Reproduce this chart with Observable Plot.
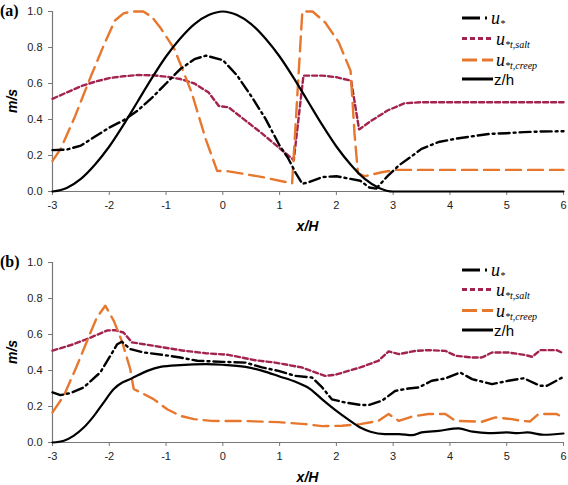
<!DOCTYPE html>
<html><head><meta charset="utf-8">
<script src="https://cdn.jsdelivr.net/npm/d3@7"></script>
<script src="https://cdn.jsdelivr.net/npm/@observablehq/plot@0.6"></script>
<style>
body{margin:0;background:#fff;}
#chart svg{display:block;}
</style></head><body><div id="chart"></div>
<script>
// ---- shared ticks ----
const xTicks = [-3,-2,-1,0,1,2,3,4,5,6];
const yTicks = [0,0.2,0.4,0.6,0.8,1.0];
const panelTags = ["(a)","(b)"];

// ---- panel (a) ----
const aZhX = [-3,-2.75,-2.5,-2.25,-2,-1.75,-1.5,-1.25,-1,-0.75,-0.5,-0.25,0,0.25,0.5,0.75,1,1.25,1.5,1.75,2,2.25,2.5,2.75,3,4,5,6];
const aZhY = [0,0.02,0.07,0.15,0.25,0.37,0.5,0.63,0.75,0.85,0.93,0.98,1.0,0.98,0.93,0.85,0.75,0.63,0.5,0.37,0.25,0.15,0.07,0.02,0,0,0,0];

const aUstarX = [-3,-2.75,-2.5,-2.25,-2,-1.75,-1.5,-1.25,-1,-0.75,-0.5,-0.3,0,0.25,0.5,0.75,1,1.15,1.28,1.4,1.5,1.75,2,2.25,2.42,2.58,2.7,2.9,3.1,3.3,3.5,3.8,4.1,4.4,4.7,5,5.3,5.6,6];
const aUstarY = [0.23,0.233,0.255,0.305,0.355,0.395,0.45,0.52,0.60,0.68,0.735,0.755,0.73,0.645,0.53,0.405,0.255,0.185,0.105,0.043,0.05,0.08,0.085,0.07,0.06,0.022,0.016,0.085,0.145,0.19,0.237,0.275,0.293,0.307,0.32,0.324,0.33,0.333,0.335];

const aSaltX = [-3,-2.75,-2.5,-2.25,-2,-1.75,-1.5,-1.25,-1,-0.75,-0.5,-0.25,-0.07,0.1,0.4,0.7,1.0,1.25,1.42,1.75,2.0,2.26,2.4,2.6,2.9,3.2,3.5,4,5,6];
const aSaltY = [0.515,0.55,0.585,0.61,0.63,0.64,0.647,0.646,0.638,0.625,0.60,0.55,0.475,0.468,0.394,0.32,0.24,0.175,0.644,0.644,0.635,0.615,0.345,0.39,0.45,0.49,0.496,0.496,0.496,0.496];

const aCreepX = [-3,-2.85,-2.6,-2.35,-2.1,-1.9,-1.75,-1.6,-1.4,-1.25,-1.1,-0.85,-0.55,-0.3,-0.1,0.1,0.7,1.22,1.4,1.58,1.8,2.04,2.25,2.32,2.38,2.5,2.8,3.05,4,5,6];
const aCreepY = [0.17,0.24,0.42,0.62,0.81,0.95,0.99,1.0,1.0,0.97,0.91,0.79,0.55,0.29,0.115,0.112,0.08,0.045,1.0,1.0,0.94,0.83,0.67,0.32,0.10,0.085,0.107,0.12,0.12,0.12,0.12];

// ---- panel (b) ----
const bZhX = [-3,-2.8,-2.63,-2.45,-2.27,-2.1,-1.92,-1.77,-1.66,-1.54,-1.33,-1.1,-0.75,-0.3,0,0.4,0.7,1.0,1.28,1.54,1.75,2.0,2.2,2.42,2.6,2.85,3.1,3.33,3.5,3.8,4.15,4.4,4.68,5.0,5.2,5.36,5.65,6];
const bZhY = [0,0.01,0.037,0.083,0.148,0.222,0.297,0.333,0.348,0.367,0.398,0.42,0.43,0.435,0.432,0.42,0.398,0.367,0.337,0.297,0.24,0.176,0.13,0.083,0.06,0.047,0.047,0.041,0.056,0.065,0.078,0.06,0.052,0.056,0.052,0.056,0.043,0.05];

const bUstarX = [-3,-2.86,-2.68,-2.45,-2.16,-1.98,-1.86,-1.78,-1.63,-1.39,-1.04,-0.75,-0.45,0,0.4,0.69,0.98,1.28,1.57,1.75,1.92,2.16,2.42,2.57,2.8,3.04,3.27,3.45,3.68,3.92,4.18,4.39,4.74,5.03,5.3,5.59,5.71,6];
const bUstarY = [0.278,0.263,0.275,0.306,0.389,0.482,0.546,0.56,0.519,0.50,0.486,0.472,0.454,0.448,0.444,0.417,0.398,0.37,0.361,0.306,0.24,0.222,0.209,0.208,0.232,0.287,0.30,0.306,0.343,0.356,0.389,0.352,0.324,0.343,0.357,0.315,0.315,0.365];

const bSaltX = [-3,-2.63,-2.33,-2.04,-1.9,-1.75,-1.6,-1.39,-1.04,-0.69,-0.3,0.1,0.57,0.92,1.39,1.8,1.98,2.21,2.42,2.74,2.92,3.1,3.39,3.62,3.92,4.1,4.39,4.56,4.74,5.03,5.33,5.45,5.59,5.88,6];
const bSaltY = [0.51,0.546,0.583,0.622,0.624,0.611,0.556,0.546,0.528,0.51,0.496,0.487,0.457,0.444,0.417,0.37,0.376,0.398,0.417,0.454,0.506,0.491,0.509,0.513,0.509,0.482,0.472,0.472,0.50,0.50,0.486,0.476,0.513,0.513,0.495];

const bCreepX = [-3,-2.8,-2.57,-2.33,-2.22,-2.07,-1.92,-1.77,-1.63,-1.57,-1.39,-1.22,-0.98,-0.75,-0.51,-0.2,0.4,0.98,1.45,1.75,2.1,2.42,2.74,2.92,3.1,3.33,3.62,3.92,4.1,4.56,4.8,5.09,5.27,5.41,5.56,5.88,6];
const bCreepY = [0.167,0.26,0.426,0.611,0.694,0.76,0.676,0.556,0.407,0.297,0.269,0.241,0.185,0.148,0.13,0.12,0.119,0.113,0.102,0.091,0.093,0.102,0.12,0.158,0.12,0.144,0.158,0.158,0.12,0.115,0.139,0.13,0.12,0.117,0.158,0.158,0.139];

// ---- styles (kept separate from data) ----
const styles = {
  ustar: {color:"#000000", dash:"11,4,2,4", legendDash:"18,5,2,100", sub:"*"},
  salt:  {color:"#A3234F", dash:"5,3", legendDash:"5,3", sub:"*t,salt"},
  creep: {color:"#E8772E", dash:"15,7", legendDash:"15,5", sub:"*t,creep"},
  zh:    {color:"#000000", dash:null, legendDash:null, label:"z/h"}
};

function toRows(xs, ys){ return xs.map((x,i)=>({x, y: ys[i]})); }

function panel(tag, data, height, mt, mb, legendY){
  const order = ["ustar","salt","creep","zh"];
  const marks = [
    Plot.ruleY([0], {stroke:"#777", strokeWidth:1.2}),
    Plot.ruleX([-3], {stroke:"#777", strokeWidth:1.2}),
    Plot.axisX({ticks:xTicks, tickFormat:d=>String(d), tickSize:4, tickPadding:6, label:null, stroke:"#777", fill:"#222"}),
    Plot.axisY({ticks:yTicks, tickFormat:d3.format(".1f"), tickSize:4, tickPadding:6, label:null, stroke:"#777", fill:"#222"})
  ];
  for (const k of ["salt","creep","ustar","zh"]) {
    const s = styles[k];
    const opts = {x:"x", y:"y", stroke:s.color, strokeWidth: k==="zh"?2.2:2.4};
    if (s.dash) opts.strokeDasharray = s.dash;
    if (k==="zh") opts.curve = "monotone-x";
    marks.push(Plot.line(toRows(data[k][0], data[k][1]), opts));
  }
  const svg = Plot.plot({
    width:568, height, marginLeft:52, marginRight:5, marginTop:mt, marginBottom:mb,
    x:{domain:[-3,6]}, y:{domain:[0,1]},
    style:{fontFamily:"'Liberation Sans', Arial, sans-serif", fontSize:"11px", background:"#fff", overflow:"visible"},
    marks
  });
  const sel = d3.select(svg);
  const plotBottom = height - mb;
  // panel tag
  sel.append("text").attr("x",0).attr("y",mt+5).attr("text-anchor","start")
    .attr("font-family","'Liberation Serif', 'Times New Roman', serif")
    .attr("font-weight","bold").attr("font-size",16).attr("fill","#000").text(tag);
  // y label
  sel.append("text").attr("transform",`translate(17,${(mt+plotBottom)/2}) rotate(-90)`)
    .attr("text-anchor","middle").attr("font-family","'Liberation Sans', Arial, sans-serif")
    .attr("font-weight","bold").attr("font-style","italic").attr("font-size",14).attr("fill","#000").text("m/s");
  // x label
  sel.append("text").attr("x",(52+563)/2).attr("y",plotBottom+40).attr("text-anchor","middle")
    .attr("font-family","'Liberation Sans', Arial, sans-serif").attr("font-weight","bold").attr("font-style","italic")
    .attr("font-size",14).attr("fill","#000").text("x/H");
  // legend
  const g = sel.append("g").attr("text-anchor","start");
  order.forEach((k,i)=>{
    const s = styles[k];
    const y = legendY[i];
    const ln = g.append("line").attr("x1",462).attr("x2",493).attr("y1",y).attr("y2",y)
      .attr("stroke",s.color).attr("stroke-width",3);
    if (s.legendDash) ln.attr("stroke-dasharray", s.legendDash);
    if (k==="zh") {
      g.append("text").attr("x",494).attr("y",y+6).attr("text-anchor","start")
        .attr("font-family","'Liberation Sans', Arial, sans-serif")
        .attr("font-size",15).attr("fill","#000").text(s.label);
    } else {
      const t = g.append("text").attr("x", k==="ustar"?491:496).attr("y",y+6).attr("text-anchor","start")
        .attr("font-family","'Liberation Serif', 'Times New Roman', serif").attr("font-style","italic").attr("fill","#000");
      t.append("tspan").attr("font-size",18).text("u");
      t.append("tspan").attr("font-size",10).attr("dy",3).text(s.sub);
    }
  });
  return svg;
}

const root = document.getElementById("chart");
root.appendChild(panel(panelTags[0], {
  ustar:[aUstarX,aUstarY], salt:[aSaltX,aSaltY], creep:[aCreepX,aCreepY], zh:[aZhX,aZhY]
}, 250, 11, 59, [18,38.5,60,79]));
root.appendChild(panel(panelTags[1], {
  ustar:[bUstarX,bUstarY], salt:[bSaltX,bSaltY], creep:[bCreepX,bCreepY], zh:[bZhX,bZhY]
}, 235, 12, 43, [20,39.5,60.5,80]));
</script>
</body></html>
